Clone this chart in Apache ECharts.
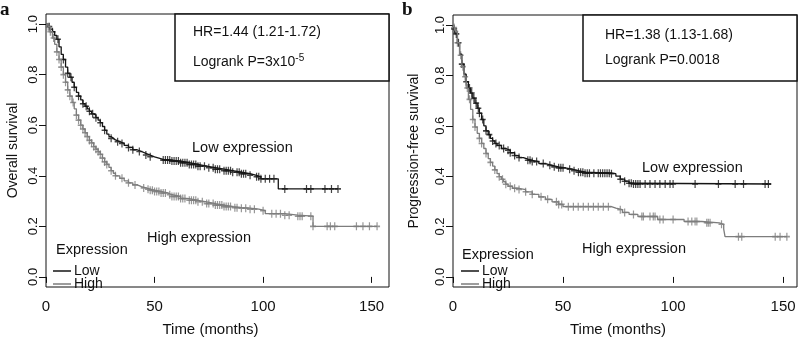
<!DOCTYPE html>
<html>
<head>
<meta charset="utf-8">
<script src="https://cdn.jsdelivr.net/npm/echarts@6/dist/echarts.min.js"></script>
<style>
  html, body { margin: 0; padding: 0; background: #fff; }
  #chart { width: 800px; height: 342px; }
</style>
</head>
<body>
<div id="chart"></div>
<script>
// Kaplan-Meier steps: [months, survival after step]
var osLow = [
  [0, 1], [1, 0.99], [2, 0.98], [3, 0.97], [4, 0.955], [5, 0.94], [6, 0.91], [7, 0.88],
  [8, 0.86], [9, 0.83], [10, 0.805], [11, 0.79], [12, 0.77], [13, 0.75], [14, 0.73],
  [15, 0.715], [16, 0.7], [17, 0.685], [18, 0.675], [19, 0.665], [20, 0.655], [21, 0.645],
  [22, 0.64], [23, 0.63], [24, 0.62], [25, 0.61], [26, 0.595], [27, 0.58], [28, 0.565],
  [29, 0.555], [30, 0.548], [31, 0.542], [32, 0.535], [34, 0.528], [36, 0.52], [38, 0.512],
  [40, 0.503], [42, 0.496], [44, 0.489], [46, 0.482], [48, 0.475], [50, 0.47], [52, 0.465],
  [54, 0.462], [58, 0.458], [62, 0.452], [66, 0.445], [70, 0.438], [74, 0.432], [78, 0.426],
  [82, 0.42], [86, 0.414], [90, 0.408], [94, 0.402], [97, 0.396], [99, 0.388], [107, 0.348],
  [134.5, 0.348]
];
var osHigh = [
  [0, 1], [1, 0.99], [2, 0.97], [3, 0.945], [4, 0.92], [5, 0.89], [6, 0.86], [7, 0.83],
  [8, 0.8], [9, 0.77], [10, 0.74], [11, 0.715], [12, 0.69], [13, 0.665], [14, 0.64],
  [15, 0.62], [16, 0.6], [17, 0.585], [18, 0.57], [19, 0.555], [20, 0.54], [21, 0.53],
  [22, 0.515], [23, 0.505], [24, 0.495], [25, 0.485], [26, 0.47], [27, 0.455], [28, 0.445],
  [29, 0.433], [30, 0.42], [31, 0.41], [32, 0.4], [34, 0.39], [36, 0.38], [38, 0.372],
  [40, 0.364], [42, 0.357], [44, 0.352], [46, 0.347], [48, 0.343], [50, 0.338], [53, 0.332],
  [56, 0.325], [58, 0.318], [62, 0.31], [66, 0.303], [70, 0.297], [74, 0.29], [78, 0.284],
  [82, 0.278], [86, 0.274], [90, 0.272], [94, 0.268], [98, 0.262], [101, 0.25], [110, 0.244],
  [116, 0.24], [123, 0.2], [152.5, 0.2]
];
var pfsLow = [
  [0, 1], [0.5, 0.985], [1, 0.965], [2, 0.93], [3, 0.885], [4, 0.845], [5, 0.805], [6, 0.775],
  [7, 0.75], [8, 0.73], [9, 0.71], [10, 0.69], [11, 0.67], [12, 0.65], [13, 0.625], [14, 0.6],
  [15, 0.58], [16, 0.565], [17, 0.55], [18, 0.54], [19, 0.53], [20, 0.522], [22, 0.51],
  [24, 0.503], [26, 0.493], [28, 0.482], [30, 0.474], [32, 0.468], [34, 0.463], [36, 0.458],
  [39, 0.45], [42, 0.443], [45, 0.437], [48, 0.433], [51, 0.428], [54, 0.422], [57, 0.416],
  [60, 0.412], [72, 0.41], [74, 0.4], [76, 0.388], [78, 0.38], [80, 0.372], [82, 0.369],
  [144.5, 0.369]
];
var pfsHigh = [
  [0, 1], [0.5, 0.99], [1, 0.975], [2, 0.93], [3, 0.88], [4, 0.835], [5, 0.795], [6, 0.75],
  [7, 0.705], [8, 0.665], [9, 0.625], [10, 0.595], [11, 0.57], [12, 0.55], [13, 0.53],
  [14, 0.51], [15, 0.49], [16, 0.47], [17, 0.455], [18, 0.44], [19, 0.425], [20, 0.41],
  [21, 0.398], [22, 0.388], [23, 0.378], [24, 0.368], [25, 0.36], [27, 0.352], [30, 0.347],
  [33, 0.338], [36, 0.328], [39, 0.318], [42, 0.308], [45, 0.298], [48, 0.288], [50, 0.279],
  [72, 0.273], [74, 0.267], [77, 0.256], [80, 0.248], [84, 0.24], [93, 0.228], [105, 0.22],
  [113, 0.215], [121, 0.209], [123, 0.19], [123.6, 0.16], [151.7, 0.16]
];

// censoring times (months)
var osLowCens = [1.5, 3, 5.5, 8, 10, 11.5, 13, 15, 17, 18.5, 20, 21.5, 23, 25, 27, 30, 33, 35,
  38, 40, 43, 46, 48, 54, 55, 56, 57, 58, 59, 60, 61, 62, 63, 64, 65, 66, 67, 68, 69, 70, 71,
  73, 75, 77, 78, 79, 80, 82, 83, 84, 85, 86, 88, 89, 90, 91, 92, 94, 97, 98, 99, 101, 103,
  105, 110, 120, 122, 128.5, 131.5, 134.5];
var osHighCens = [1, 2, 3.5, 5, 6, 7, 8, 9, 10, 11, 12.5, 14, 15, 16, 17, 18, 19, 20, 21, 22,
  23, 24, 25, 26, 27, 28, 30, 32, 35, 38, 41, 45, 47, 48, 49, 50, 51, 52, 53, 54, 55, 57, 58,
  59, 60, 61, 62, 63, 64, 66, 67, 68, 69, 70, 72, 74, 75, 77, 78, 79, 80, 81, 82, 83, 84, 85,
  87, 88, 90, 92, 94, 96, 100, 104, 106, 108, 110, 112, 116, 117, 118, 122, 123, 129.5, 131,
  133, 143, 146, 149, 152.5];
var pfsLowCens = [0.5, 1.5, 2.5, 4, 6, 7.5, 8.5, 9.5, 10.5, 11.5, 12, 13.5, 15, 16.5, 18, 19.5,
  21, 23, 25, 26, 28, 30, 34, 35, 36, 38, 41, 44, 46, 48, 49, 50, 53, 55, 57, 58, 59, 60, 61,
  62, 64, 66, 67, 68, 69, 70, 71, 72, 76, 78, 80, 81, 82, 83, 84, 85, 87.3, 89.5, 91.8, 94,
  96.4, 98.6, 100, 110, 120.6, 128.2, 132, 141.8, 143.3];
var pfsHighCens = [0.5, 1, 2, 3.5, 4.5, 5.5, 6.5, 7.5, 9, 10, 12, 13, 15, 17, 19, 21, 22.5, 24,
  26, 28, 30, 33, 36, 40, 43, 47, 48, 49.4, 52.4, 54.7, 56.9, 59.2, 61.5, 63.8, 66, 68.3, 70.6,
  76, 78, 82, 85.8, 86.5, 89.5, 91, 91.8, 94, 95.5, 100, 106.8, 108.5, 110, 110.8, 115.3, 116,
  116.8, 122, 129.7, 131.2, 146.4, 148.6, 151.7];

var yTicks = [0, 0.2, 0.4, 0.6, 0.8, 1.0];
var xTicks = [0, 50, 100, 150];

var FONT = '"Liberation Sans", Arial, sans-serif';
var INK = '#111';
var LOW_COLOR = '#151515';
var HIGH_COLOR = '#7d7d7d';
var PLUS = 'path://M4,0H6V4H10V6H6V10H4V6H0V4H4Z';

function survAt(curve, t) {
  var s = curve[0][1];
  for (var i = 0; i < curve.length; i++) {
    if (curve[i][0] <= t) s = curve[i][1];
    else break;
  }
  return s;
}

function kmSeries(name, curve, cens, color, idx) {
  return [
    {
      name: name, type: 'line', step: 'end', data: curve,
      xAxisIndex: idx, yAxisIndex: idx, showSymbol: false, silent: true,
      lineStyle: { color: color, width: 1.3 }, itemStyle: { color: color }
    },
    {
      name: name + ' censored', type: 'scatter',
      data: cens.map(function(t) { return [t, survAt(curve, t)]; }),
      xAxisIndex: idx, yAxisIndex: idx, silent: true,
      symbol: PLUS, symbolSize: [6, 8], itemStyle: { color: color }
    }
  ];
}

function xAxisFor(idx, max) {
  return {
    type: 'value', gridIndex: idx, min: 0, max: max,
    name: 'Time (months)', nameLocation: 'middle', nameGap: 35,
    nameTextStyle: { fontFamily: FONT, fontSize: 15, color: INK, padding: [0, 14, 0, 0] },
    axisLine: { show: false },
    axisTick: { length: 6, lineStyle: { color: INK }, customValues: xTicks },
    axisLabel: { customValues: xTicks, margin: 12, fontFamily: FONT, fontSize: 15, color: INK },
    splitLine: { show: false }
  };
}

function yAxisFor(idx, title, gap) {
  return {
    type: 'value', gridIndex: idx, min: -0.04, max: 1.04,
    name: title, nameLocation: 'middle', nameGap: gap,
    nameTextStyle: { fontFamily: FONT, fontSize: 14, color: INK },
    axisLine: { show: false },
    axisTick: { length: 7, lineStyle: { color: INK }, customValues: yTicks },
    axisLabel: {
      customValues: yTicks, rotate: 90, margin: 6,
      fontFamily: FONT, fontSize: 13, color: INK,
      formatter: function(v) { return v.toFixed(1); }
    },
    splitLine: { show: false }
  };
}

function text(x, y, str, size, extra) {
  var el = {
    type: 'text', x: x, y: y,
    style: { text: str, fontFamily: FONT, fontSize: size || 14, fill: INK, verticalAlign: 'middle' }
  };
  if (extra) Object.assign(el.style, extra);
  return el;
}

function hrBox(x, y, w, h) {
  return { type: 'rect', shape: { x: x, y: y, width: w, height: h },
    style: { fill: '#fff', stroke: INK, lineWidth: 1.5 } };
}

function legendFor(left, top) {
  return {
    orient: 'vertical', left: left, top: top, padding: 0, itemGap: -1,
    itemWidth: 18, itemHeight: 1.5, icon: 'rect',
    data: ['Low', 'High'], selectedMode: false,
    textStyle: { fontFamily: FONT, fontSize: 14, color: INK, lineHeight: 13, padding: [0, 0, 0, -2] }
  };
}

var chart = echarts.init(document.getElementById('chart'));
chart.setOption({
  animation: false,
  backgroundColor: '#fff',
  grid: [
    { left: 46, top: 14, width: 343, height: 280, show: true, borderColor: INK, borderWidth: 1 },
    { left: 453, top: 15, width: 344, height: 279, show: true, borderColor: INK, borderWidth: 1 }
  ],
  xAxis: [xAxisFor(0, 158), xAxisFor(1, 156.3)],
  yAxis: [yAxisFor(0, 'Overall survival', 26), yAxisFor(1, 'Progression-free survival', 32)],
  legend: [legendFor(53, 264), legendFor(461, 264)],
  series: [].concat(
    kmSeries('Low', osLow, osLowCens, LOW_COLOR, 0),
    kmSeries('High', osHigh, osHighCens, HIGH_COLOR, 0),
    kmSeries('Low', pfsLow, pfsLowCens, LOW_COLOR, 1),
    kmSeries('High', pfsHigh, pfsHighCens, HIGH_COLOR, 1)
  ),
  graphic: [
    text(0, 10, 'a', 19, { fontFamily: '"Liberation Serif", serif', fontWeight: 'bold' }),
    text(402, 10, 'b', 19, { fontFamily: '"Liberation Serif", serif', fontWeight: 'bold' }),

    hrBox(175, 14, 214, 67),
    text(193, 32, 'HR=1.44 (1.21-1.72)', 14),
    {
      type: 'text', x: 193, y: 62,
      style: {
        text: '{n|Logrank P=3x10}{s|-5}', verticalAlign: 'middle',
        rich: {
          n: { fontFamily: FONT, fontSize: 14, fill: INK },
          s: { fontFamily: FONT, fontSize: 10, fill: INK, verticalAlign: 'top', padding: [0, 0, 8, 0] }
        }
      }
    },
    hrBox(583, 15, 214, 66),
    text(605, 35, 'HR=1.38 (1.13-1.68)', 14),
    text(605, 60, 'Logrank P=0.0018', 14),

    text(192, 148, 'Low expression', 14.5),
    text(147, 238, 'High expression', 14.5),
    text(642, 168, 'Low expression', 14.5),
    text(582, 249, 'High expression', 14.5),

    text(56, 250, 'Expression', 14.5),
    text(462, 255, 'Expression', 14.5)
  ]
});
</script>
</body>
</html>
